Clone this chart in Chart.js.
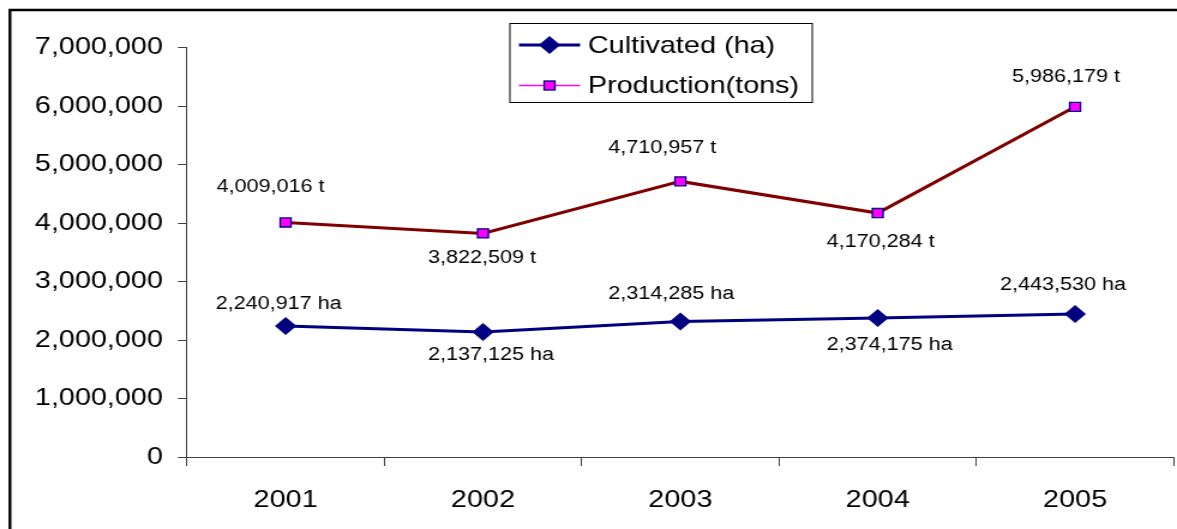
<!DOCTYPE html>
<html>
<head>
<meta charset="utf-8">
<title>Cultivated area and production, 2001–2005</title>
<script src="https://cdn.jsdelivr.net/npm/chart.js@4.4.1/dist/chart.umd.min.js"></script>
<style>
  html, body { margin: 0; padding: 0; background: #fff; overflow: hidden; }
</style>
</head>
<body>
<!-- The drawing surface is rendered narrower and widened on screen,
     giving the broad, horizontally stretched lettering of the chart. -->
<canvas id="chart" width="981" height="529" style="display:block;width:1177px;height:529px"></canvas>
<script>
// ---- data ----
const years = ['2001', '2002', '2003', '2004', '2005'];
const cultivatedHa = [2240917, 2137125, 2314285, 2374175, 2443530];
const productionTons = [4009016, 3822509, 4710957, 4170284, 5986179];
const yTickValues = [0, 1000000, 2000000, 3000000, 4000000, 5000000, 6000000, 7000000];
const seriesNames = ['Cultivated (ha)', 'Production(tons)'];
const seriesUnits = ['ha', 't'];

// ---- styling ----
const FONT = '"Liberation Sans", Arial, sans-serif';
const AXIS_COLOR = '#404040';
// value label placement relative to each point (canvas px: dx, dy)
const cultivatedLabelOffsets = [[-5.8, -22], [6.7, 23], [-7.5, -28], [10, 27], [-10, -29]];
const productionLabelOffsets = [[-12.5, -35], [-0.8, 25], [-15, -33], [2.5, 29], [-7.5, -30]];

const fmt = v => v.toLocaleString('en-US');

// white background and the outer frame
const framePlugin = {
  id: 'frame',
  beforeDraw(chart) {
    const ctx = chart.ctx;
    ctx.save();
    ctx.fillStyle = '#fff';
    ctx.fillRect(0, 0, chart.width, chart.height);
    ctx.strokeStyle = '#000';
    ctx.lineWidth = 2.4;
    ctx.beginPath();
    ctx.moveTo(8.3, chart.height + 10);
    ctx.lineTo(8.3, 10);
    ctx.lineTo(chart.width + 10, 10);
    ctx.stroke();
    ctx.restore();
  }
};

// value labels next to every point
const valueLabelPlugin = {
  id: 'valueLabels',
  afterDatasetsDraw(chart) {
    const ctx = chart.ctx;
    ctx.save();
    ctx.font = '18px ' + FONT;
    ctx.fillStyle = '#000';
    ctx.textAlign = 'center';
    ctx.textBaseline = 'middle';
    chart.data.datasets.forEach((ds, i) => {
      const meta = chart.getDatasetMeta(i);
      const offsets = ds.labelOffsets;
      meta.data.forEach((pt, j) => {
        const [dx, dy] = offsets[j];
        ctx.fillText(fmt(ds.data[j]) + ' ' + ds.unit, pt.x + dx, pt.y + dy);
      });
    });
    ctx.restore();
  }
};

// boxed legend with line-and-marker samples
const boxLegendPlugin = {
  id: 'boxLegend',
  afterDraw(chart) {
    const ctx = chart.ctx;
    const box = { x: 425, y: 23.5, w: 252, h: 79 };
    ctx.save();
    ctx.fillStyle = '#fff';
    ctx.fillRect(box.x, box.y, box.w, box.h);
    ctx.strokeStyle = '#000';
    ctx.lineWidth = 1;
    ctx.strokeRect(box.x, box.y, box.w, box.h);

    const rows = [
      { y: 45, line: '#000080', lineWidth: 3, draw: (cx, cy) => {
          ctx.fillStyle = '#000080';
          ctx.beginPath();
          ctx.moveTo(cx - 9, cy); ctx.lineTo(cx, cy - 9);
          ctx.lineTo(cx + 9, cy); ctx.lineTo(cx, cy + 9);
          ctx.closePath(); ctx.fill();
        } },
      { y: 85.5, line: '#ff00ff', lineWidth: 1.5, draw: (cx, cy) => {
          ctx.fillStyle = '#ff00ff';
          ctx.fillRect(cx - 4.5, cy - 4.5, 9, 9);
          ctx.strokeStyle = '#000080';
          ctx.lineWidth = 1.3;
          ctx.strokeRect(cx - 4.5, cy - 4.5, 9, 9);
        } }
    ];
    rows.forEach((r, i) => {
      ctx.strokeStyle = r.line;
      ctx.lineWidth = r.lineWidth;
      ctx.beginPath();
      ctx.moveTo(432.5, r.y);
      ctx.lineTo(483.5, r.y);
      ctx.stroke();
      r.draw(458, r.y);
      ctx.fillStyle = '#000';
      ctx.font = '24px ' + FONT;
      ctx.textAlign = 'left';
      ctx.textBaseline = 'middle';
      ctx.fillText(chart.data.datasets[i].label, 490, r.y + 1);
    });
    ctx.restore();
  }
};

new Chart(document.getElementById('chart'), {
  type: 'line',
  data: {
    labels: years,
    datasets: [
      {
        label: seriesNames[0],
        unit: seriesUnits[0],
        labelOffsets: cultivatedLabelOffsets,
        data: cultivatedHa,
        borderColor: '#000080',
        borderWidth: 3,
        backgroundColor: '#000080',
        pointStyle: 'rectRot',
        pointRadius: 9,
        pointBorderWidth: 0,
        pointBackgroundColor: '#000080',
        pointBorderColor: '#000080',
        tension: 0
      },
      {
        label: seriesNames[1],
        unit: seriesUnits[1],
        labelOffsets: productionLabelOffsets,
        data: productionTons,
        borderColor: '#800000',
        borderWidth: 3,
        backgroundColor: '#ff00ff',
        pointStyle: 'rect',
        pointRadius: 6.4,
        pointBorderWidth: 1.3,
        pointBackgroundColor: '#ff00ff',
        pointBorderColor: '#000080',
        tension: 0
      }
    ]
  },
  options: {
    responsive: false,
    devicePixelRatio: 1,
    animation: false,
    events: [],
    layout: { autoPadding: false, padding: { top: 47.5, right: 2.7, bottom: 0, left: 0 } },
    plugins: {
      legend: { display: false },
      tooltip: { enabled: false }
    },
    scales: {
      x: {
        type: 'category',
        offset: true,
        grid: { offset: true, drawOnChartArea: false, drawTicks: true, tickLength: 9, color: AXIS_COLOR, lineWidth: 1 },
        border: { display: true, color: AXIS_COLOR, width: 1 },
        ticks: { color: '#000', font: { family: FONT, size: 24 }, padding: 20, maxRotation: 0 },
        afterFit(scale) {
          scale.height = 72;
          scale.paddingLeft = 0;
          scale.paddingRight = 0;
        }
      },
      y: {
        min: 0,
        max: 7000000,
        afterBuildTicks(scale) { scale.ticks = yTickValues.map(v => ({ value: v })); },
        grid: { drawOnChartArea: false, drawTicks: true, tickLength: 7.5, color: AXIS_COLOR, lineWidth: 1 },
        border: { display: true, color: AXIS_COLOR, width: 1 },
        ticks: { color: '#000', font: { family: FONT, size: 24 }, padding: 12.5, callback: v => fmt(v) },
        afterFit(scale) { scale.width = 155.8; }
      }
    }
  },
  plugins: [framePlugin, valueLabelPlugin, boxLegendPlugin]
});
</script>
</body>
</html>
